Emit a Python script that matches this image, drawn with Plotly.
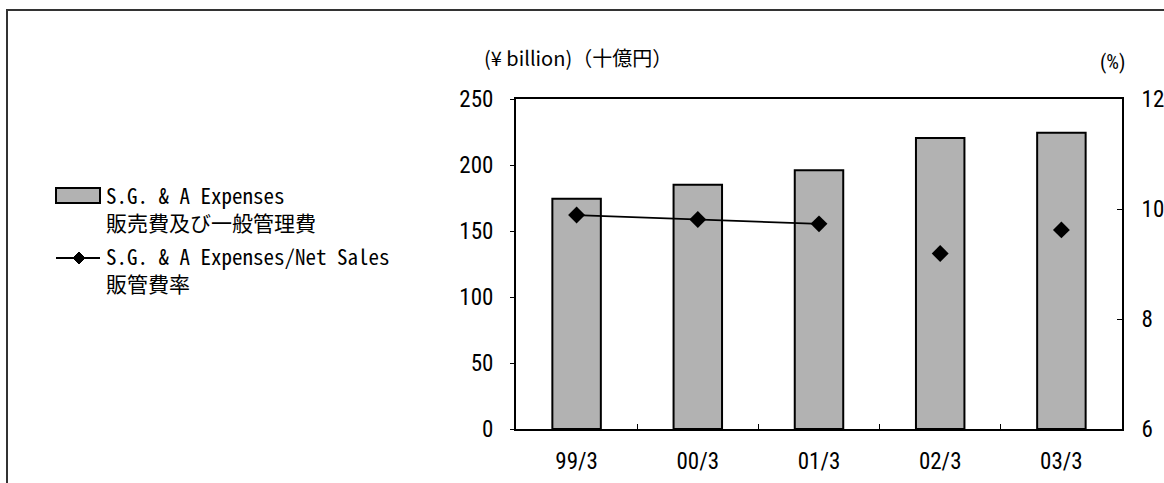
import plotly.graph_objects as go

# ---- data ----
periods = ["99/3", "00/3", "01/3", "02/3", "03/3"]
sga_expenses = [174.5, 185.0, 196.0, 220.5, 224.5]          # ¥ billion
sga_ratio = [9.89, 9.81, 9.73, 9.19, 9.62]                 # %
connected_count = 3                                        # line drawn only through first points

bar_label = ["S.G. & A Expenses", "販売費及び一般管理費"]
line_label = ["S.G. & A Expenses/Net Sales", "販管費率"]

W, H = 1164, 483
L, R, T, B = 516, 1122, 99, 429


def px(x):
    return (x - L) / (R - L)


def py(y):
    return (B - y) / (B - T)


TICK_FONT = dict(family="Liberation Sans Narrow, Roboto Condensed, Arial Narrow, Liberation Sans, sans-serif",
                 size=23, color="black")
MONO = "Noto Sans Mono CJK JP, Noto Sans CJK JP, Liberation Mono, monospace"
CJK = "Noto Sans CJK JP, sans-serif"

fig = go.Figure()
fig.add_trace(go.Bar(
    x=periods, y=sga_expenses, name=bar_label[0],
    marker=dict(color="#b2b2b2", line=dict(color="black", width=2)),
    width=0.4, showlegend=False, yaxis="y",
))
fig.add_trace(go.Scatter(
    x=periods[:connected_count], y=sga_ratio[:connected_count], name=line_label[0],
    mode="lines+markers", yaxis="y2",
    line=dict(color="black", width=1.8),
    marker=dict(symbol="diamond", size=13, color="black"),
    showlegend=False,
))
fig.add_trace(go.Scatter(
    x=periods[connected_count:], y=sga_ratio[connected_count:], name=line_label[0],
    mode="markers", yaxis="y2",
    marker=dict(symbol="diamond", size=13, color="black"),
    showlegend=False,
))

fig.update_layout(
    width=W, height=H,
    margin=dict(l=L, r=W - R, t=T, b=H - B, pad=0, autoexpand=False),
    paper_bgcolor="white", plot_bgcolor="white",
    bargap=0.6,
    xaxis=dict(
        type="category", tickson="boundaries", ticks="inside", ticklen=5,
        tickcolor="black", tickwidth=1, automargin=False,
        showline=True, linecolor="black", linewidth=2, mirror=True,
        showgrid=False, tickfont=TICK_FONT, ticklabelstandoff=10,
    ),
    yaxis=dict(
        range=[0, 250], tickvals=[0, 50, 100, 150, 200, 250],
        ticks="outside", ticklen=4, tickcolor="black", tickwidth=1, automargin=False,
        showline=True, linecolor="black", linewidth=2,
        showgrid=False, zeroline=False, tickfont=TICK_FONT, ticklabelstandoff=12,
    ),
    yaxis2=dict(
        range=[6, 12], tickvals=[6, 8, 10, 12], overlaying="y", side="right",
        ticks="inside", ticklen=5, tickcolor="black", tickwidth=1, automargin=False,
        showline=True, linecolor="black", linewidth=2,
        showgrid=False, zeroline=False, tickfont=TICK_FONT, ticklabelstandoff=13,
    ),
    shapes=[
        # outer frame (partially clipped like the reference)
        dict(type="rect", xref="paper", yref="paper",
             x0=px(7), x1=px(W + 20), y0=py(H + 20), y1=py(10),
             line=dict(color="#333333", width=2), fillcolor="rgba(0,0,0,0)", layer="below"),
        # legend swatch for bars
        dict(type="rect", xref="paper", yref="paper",
             x0=px(56), x1=px(100), y0=py(203), y1=py(188),
             line=dict(color="black", width=2), fillcolor="#b2b2b2"),
        # legend line for ratio
        dict(type="line", xref="paper", yref="paper",
             x0=px(56), x1=px(100), y0=py(258), y1=py(258),
             line=dict(color="black", width=1.8)),
        dict(type="path", xref="paper", yref="paper",
             path=(f"M {px(79)},{py(252)} L {px(85)},{py(258)} "
                   f"L {px(79)},{py(264)} L {px(73)},{py(258)} Z"),
             line=dict(color="black", width=1), fillcolor="black"),
    ],
    annotations=[
        dict(text="(¥ billion)（十億円）", xref="paper", yref="paper", x=px(482), y=py(58),
             xanchor="left", yanchor="middle", showarrow=False,
             font=dict(family=CJK, size=20, color="black")),
        dict(text="(%)", xref="paper", yref="paper", x=px(1112), y=py(62),
             xanchor="center", yanchor="middle", showarrow=False,
             font=dict(family=TICK_FONT["family"], size=20, color="black")),
        dict(text="<br>".join(bar_label), xref="paper", yref="paper", x=px(104), y=py(208),
             xanchor="left", yanchor="middle", align="left", showarrow=False,
             font=dict(family=MONO, size=21, color="black")),
        dict(text="<br>".join(line_label), xref="paper", yref="paper", x=px(104), y=py(269),
             xanchor="left", yanchor="middle", align="left", showarrow=False,
             font=dict(family=MONO, size=21, color="black")),
    ],
)

# remove the browser's default 8px body margin so the figure sits at the window origin
fig.write_html("out.html", config={"displayModeBar": False},
               post_script="document.body.style.margin='0';")
